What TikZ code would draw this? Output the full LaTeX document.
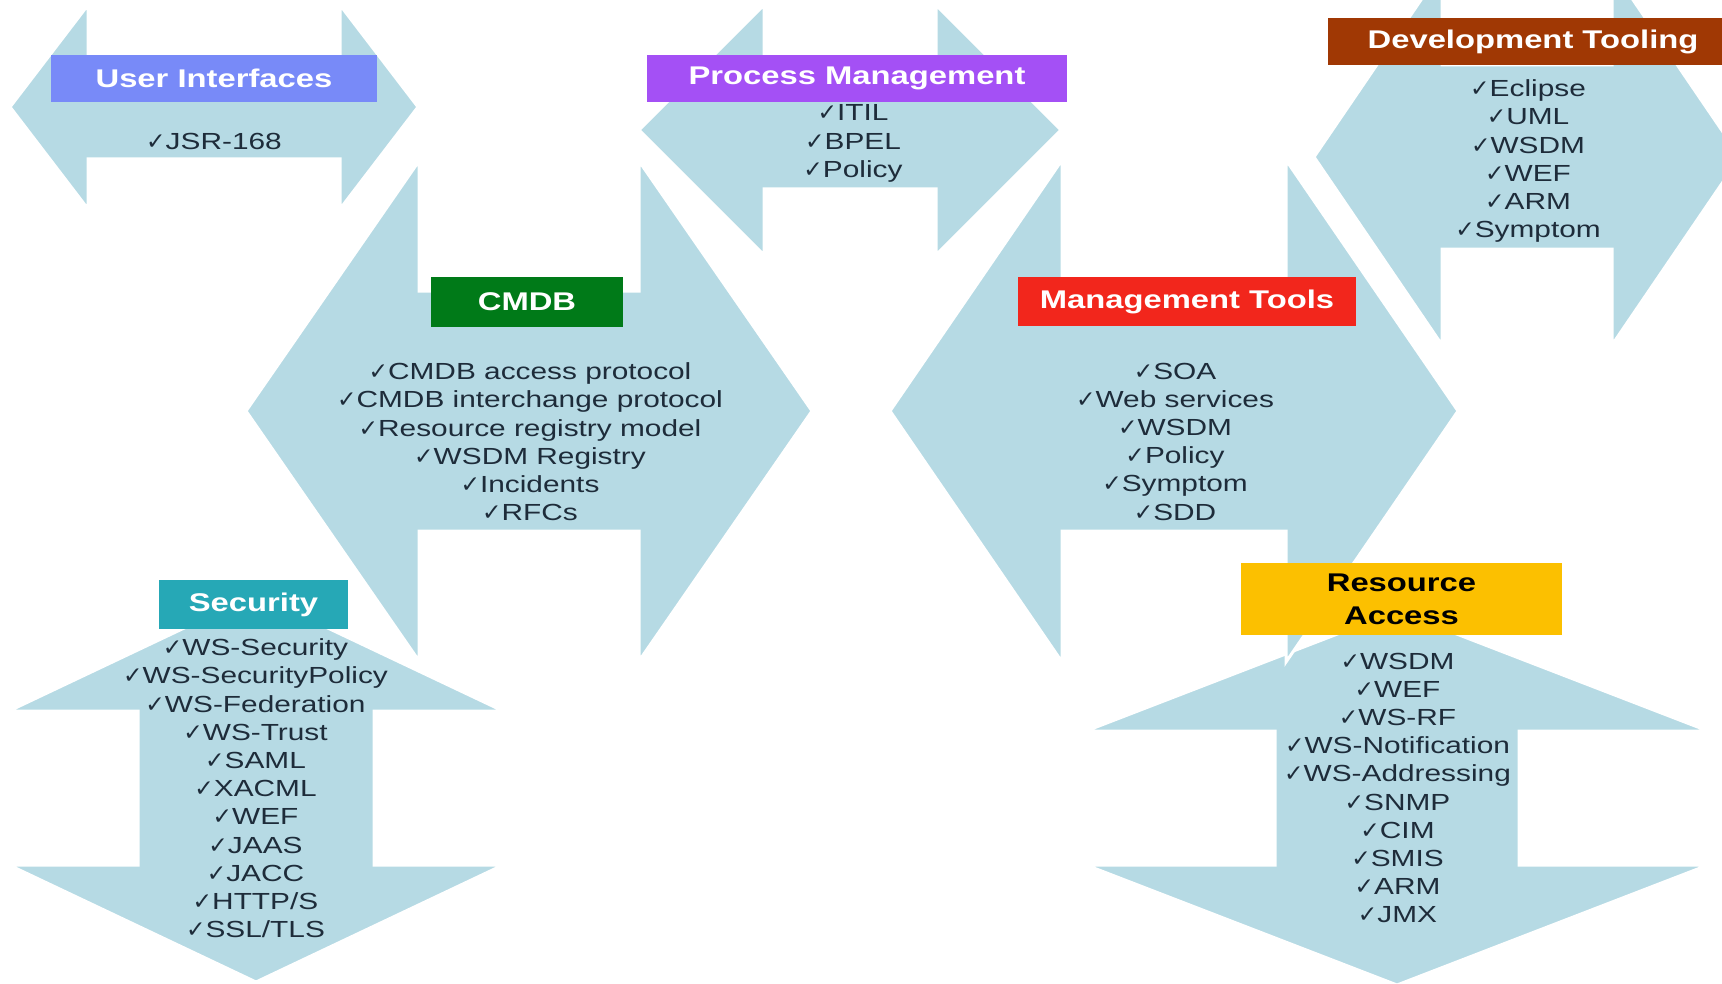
\documentclass[tikz,border=0pt]{standalone}
\usepackage{fontspec}
\setmainfont{Liberation Sans}[FakeStretch=1.28]
\newfontfamily\tickfont{DejaVu Sans}[Scale=1.0]
\usepackage{xcolor}
\usepackage{tikz}
\usetikzlibrary{positioning}

\definecolor{arrowblue}{RGB}{182,218,228}
\definecolor{itemgray}{RGB}{30,44,58}
\definecolor{uiblue}{RGB}{120,138,248}
\definecolor{pmpurple}{RGB}{164,80,245}
\definecolor{dtbrown}{RGB}{160,56,4}
\definecolor{cmdbgreen}{RGB}{0,122,24}
\definecolor{mtred}{RGB}{242,38,28}
\definecolor{secteal}{RGB}{38,168,182}
\definecolor{ragold}{RGB}{252,192,0}

\tikzstyle{arrowbody}=[fill=arrowblue, draw=white, line width=1.5pt]
\tikzstyle{tag}=[rectangle, inner sep=0pt, text=white, align=center, minimum height=23.5pt, font=\fontsize{12.8}{16.5}\selectfont\bfseries]
\tikzstyle{items}=[inner sep=0pt, align=center, text=itemgray, font=\fontsize{11.65}{14.1}\selectfont]

\newcommand{\chkmark}{{\tickfont ✓}}
% options, half length, head length, shaft half width, head half width
\newcommand{\dblarrow}[5]{\draw[arrowbody,#1] (-#2,0) -- (-#2+#3,-#5) -- (-#2+#3,-#4) -- (#2-#3,-#4) -- (#2-#3,-#5) -- (#2,0) -- (#2-#3,#5) -- (#2-#3,#4) -- (-#2+#3,#4) -- (-#2+#3,#5) -- cycle;}

\begin{document}
\begin{tikzpicture}[x=0.5pt, y=-0.5pt]
	\useasboundingbox (0,0) rectangle (1722,984);

	\dblarrow{shift={(256,788)}, rotate=90}{194}{117}{118}{247}
	\dblarrow{shift={(529,411)}}{283}{173}{120}{250}
	\dblarrow{shift={(214,107)}}{204}{78}{52}{102}
	\dblarrow{shift={(850,130)}}{211}{125}{59}{125}
	\dblarrow{shift={(1397,798)}, rotate=90}{187}{120}{122}{311}
	\dblarrow{shift={(1174,411)}}{284}{172}{120}{251}
	\dblarrow{shift={(1527,157)}}{213}{128}{92}{188}

	\node[tag, fill=uiblue, minimum width=163pt] (ui) at (214,78.5) {User Interfaces};
	\node[items, below=15pt of ui] (uiitems) {\chkmark JSR-168};

	\node[tag, fill=pmpurple, minimum width=210pt] (pm) at (857,78.5) {Process Management};
	\node[items, below=1pt of pm, xshift=-2pt] (pmitems) {\chkmark ITIL\\\chkmark BPEL\\\chkmark Policy};

	\node[tag, fill=dtbrown, minimum width=205pt] (dt) at (1533,41.5) {Development Tooling};
	\node[items, below=7pt of dt, xshift=-2.5pt] (dtitems) {\chkmark Eclipse\\\chkmark UML\\\chkmark WSDM\\\chkmark WEF\\\chkmark ARM\\\chkmark Symptom};

	\node[tag, fill=cmdbgreen, minimum width=96pt, minimum height=25pt] (cmdb) at (527,302) {CMDB};
	\node[items, below=17.5pt of cmdb, xshift=1.5pt] (cmdbitems) {\chkmark CMDB access protocol\\\chkmark CMDB interchange protocol\\\chkmark Resource registry model\\\chkmark WSDM Registry\\\chkmark Incidents\\\chkmark RFCs};

	\node[tag, fill=mtred, minimum width=169pt, minimum height=24.5pt] (mt) at (1187,301.5) {Management Tools};
	\node[items, below=18pt of mt, xshift=-6pt] (mtitems) {\chkmark SOA\\\chkmark Web services\\\chkmark WSDM\\\chkmark Policy\\\chkmark Symptom\\\chkmark SDD};

	\node[tag, fill=secteal, minimum width=94.5pt, minimum height=24.5pt] (sec) at (253.5,604.5) {Security};
	\node[items, below=4.5pt of sec, xshift=1pt] (secitems) {\chkmark WS-Security\\\chkmark WS-SecurityPolicy\\\chkmark WS-Federation\\\chkmark WS-Trust\\\chkmark SAML\\\chkmark XACML\\\chkmark WEF\\\chkmark JAAS\\\chkmark JACC\\\chkmark HTTP/S\\\chkmark SSL/TLS};

	\node[tag, fill=ragold, text=black, minimum width=160.5pt, minimum height=36pt] (ra) at (1401.5,599) {Resource\\Access};
	\node[items, below=8.5pt of ra, xshift=-2pt] (raitems) {\chkmark WSDM\\\chkmark WEF\\\chkmark WS-RF\\\chkmark WS-Notification\\\chkmark WS-Addressing\\\chkmark SNMP\\\chkmark CIM\\\chkmark SMIS\\\chkmark ARM\\\chkmark JMX};
\end{tikzpicture}
\end{document}
